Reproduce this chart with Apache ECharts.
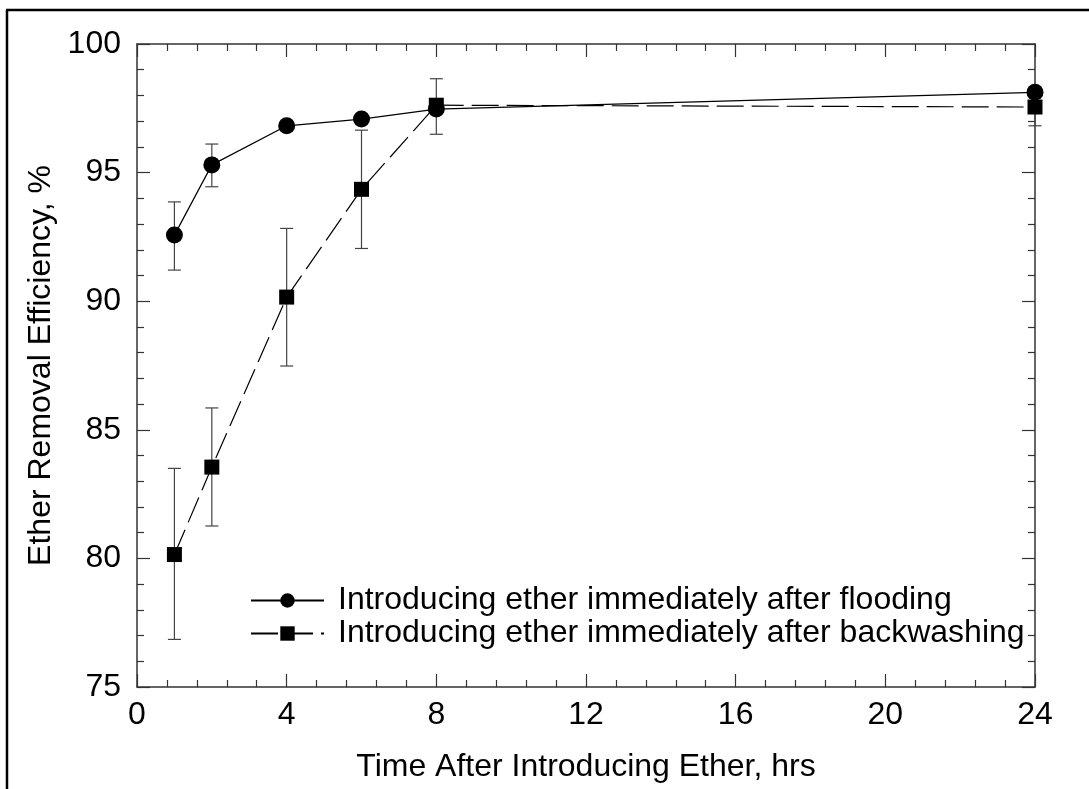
<!DOCTYPE html>
<html>
<head>
<meta charset="utf-8">
<script src="https://cdn.jsdelivr.net/npm/echarts@6/dist/echarts.min.js"></script>
<style>
html,body{margin:0;padding:0;background:#fff;}
#chart{width:1089px;height:789px;}
</style>
</head>
<body>
<div id="chart"></div>
<script>
var hours = [1, 2, 4, 6, 8, 24];
var floodName = 'Introducing ether immediately after flooding';
var backName = 'Introducing ether immediately after backwashing';
var flood = [92.57, 95.3, 96.82, 97.08, 97.47, 98.12];
var floodLow = [91.21, 94.45, null, null, null, null];
var floodHigh = [93.86, 96.11, null, null, null, null];
var back = [80.15, 83.55, 90.16, 94.35, 97.62, 97.55];
var backLow = [76.85, 81.26, 87.48, 92.05, 96.49, 96.82];
var backHigh = [83.5, 85.85, 92.83, 96.65, 98.65, 98.28];
var xTicks = [0, 4, 8, 12, 16, 20, 24];
var yTicks = [75, 80, 85, 90, 95, 100];

var FONT = '"Liberation Sans", Arial, sans-serif';
var FS = 32;
var AX = '#333';

function pairs(xs, ys) { return xs.map(function (x, i) { return [x, ys[i]]; }); }
function errData(xs, lo, hi) {
  var out = [];
  xs.forEach(function (x, i) { if (lo[i] != null && hi[i] != null) out.push([x, lo[i], hi[i]]); });
  return out;
}
function errRender(params, api) {
  var x = api.value(0);
  var p1 = api.coord([x, api.value(1)]);
  var p2 = api.coord([x, api.value(2)]);
  var hw = 6.5;
  var st = { stroke: '#444', lineWidth: 1.2 };
  return {
    type: 'group',
    children: [
      { type: 'line', shape: { x1: p1[0], y1: p1[1], x2: p2[0], y2: p2[1] }, style: st },
      { type: 'line', shape: { x1: p1[0] - hw, y1: p1[1], x2: p1[0] + hw, y2: p1[1] }, style: st },
      { type: 'line', shape: { x1: p2[0] - hw, y1: p2[1], x2: p2[0] + hw, y2: p2[1] }, style: st }
    ]
  };
}

function axisBase(extra) {
  var a = {
    type: 'value',
    axisLine: { show: true, onZero: false, lineStyle: { color: AX, width: 1.5 } },
    axisTick: { show: true, inside: true, length: 13, lineStyle: { color: AX, width: 1.2 } },
    minorTick: { show: true, splitNumber: 5, length: 7, lineStyle: { color: AX, width: 1.2 } },
    splitLine: { show: false },
    minorSplitLine: { show: false }
  };
  for (var k in extra) a[k] = extra[k];
  return a;
}

var chart = echarts.init(document.getElementById('chart'), null, { renderer: 'canvas' });
chart.setOption({
  backgroundColor: '#fff',
  animation: false,
  graphic: [
    { type: 'line', shape: { x1: 7, y1: 10, x2: 7, y2: 789 }, style: { stroke: '#000', lineWidth: 2.5 } },
    { type: 'line', shape: { x1: 6, y1: 10, x2: 1089, y2: 10 }, style: { stroke: '#000', lineWidth: 2.5 } }
  ],
  grid: { left: 137, top: 44, right: 54, bottom: 102, containLabel: false, outerBoundsMode: 'none' },
  legend: {
    orient: 'vertical',
    left: 245,
    top: 579,
    itemWidth: 73,
    itemHeight: 18,
    itemGap: 0,
    textStyle: { fontFamily: FONT, fontSize: FS, color: '#000', padding: [0, 0, 0, 9], lineHeight: 33 },
    data: [floodName, backName]
  },
  xAxis: [
    axisBase({
      min: 0, max: 24, interval: 4, position: 'bottom',
      name: 'Time After Introducing Ether, hrs',
      nameLocation: 'middle', nameGap: 64,
      nameTextStyle: { fontFamily: FONT, fontSize: FS, color: '#000' },
      axisLabel: { fontFamily: FONT, fontSize: FS, color: '#000', margin: 12,
        formatter: function (v) { return xTicks.indexOf(v) >= 0 ? String(v) : ''; } }
    }),
    axisBase({ min: 0, max: 24, interval: 4, position: 'top', axisLabel: { show: false } })
  ],
  yAxis: [
    axisBase({
      min: 75, max: 100, interval: 5, position: 'left',
      name: 'Ether Removal Efficiency, %',
      nameLocation: 'middle', nameGap: 80, nameRotate: 90,
      nameTextStyle: { fontFamily: FONT, fontSize: FS, color: '#000' },
      axisLabel: { fontFamily: FONT, fontSize: FS, color: '#000', margin: 16,
        formatter: function (v) { return yTicks.indexOf(v) >= 0 ? String(v) : ''; } }
    }),
    axisBase({ min: 75, max: 100, interval: 5, position: 'right', axisLabel: { show: false } })
  ],
  series: [
    {
      type: 'custom', name: 'floodErr', renderItem: errRender, z: 1,
      encode: { x: 0, y: [1, 2] }, data: errData(hours, floodLow, floodHigh), silent: true
    },
    {
      type: 'custom', name: 'backErr', renderItem: errRender, z: 1,
      encode: { x: 0, y: [1, 2] }, data: errData(hours, backLow, backHigh), silent: true
    },
    {
      name: floodName, type: 'line', z: 3,
      data: pairs(hours, flood),
      symbol: 'circle', symbolSize: 17,
      itemStyle: { color: '#000' },
      lineStyle: { color: '#000', width: 1.2, type: 'solid' }
    },
    {
      name: backName, type: 'line', z: 3,
      data: pairs(hours, back),
      symbol: 'rect', symbolSize: 15,
      itemStyle: { color: '#000' },
      lineStyle: { color: '#000', width: 1.2, type: [27, 8] }
    }
  ]
});
</script>
</body>
</html>
